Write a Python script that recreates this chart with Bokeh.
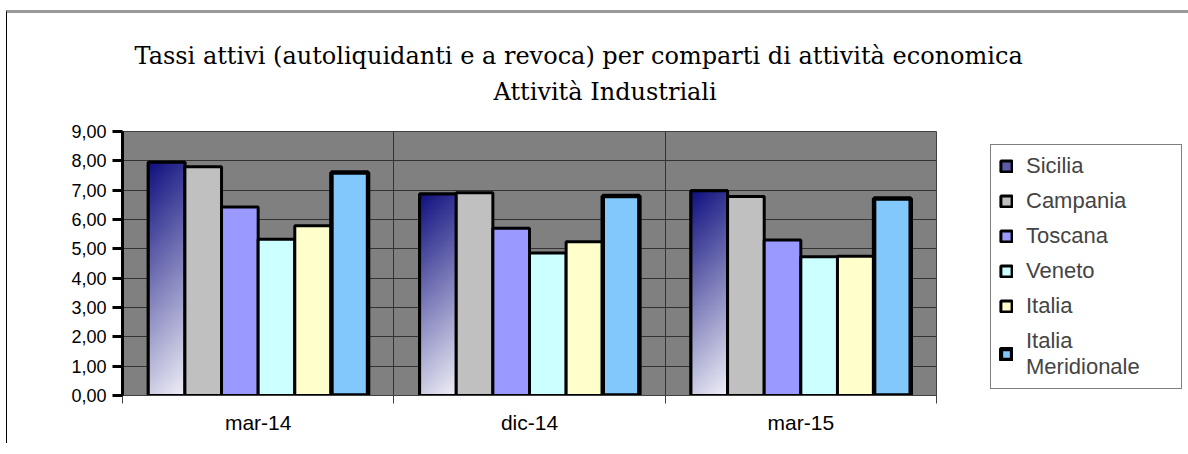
import numpy as np
from bokeh.plotting import figure
from bokeh.models import Range1d, FixedTicker, Legend, LegendItem, Title
from bokeh.embed import file_html
from bokeh.resources import INLINE

# ---- data ----
periods = ["mar-14", "dic-14", "mar-15"]
series = ["Sicilia", "Campania", "Toscana", "Veneto", "Italia", "Italia\nMeridionale"]
sicilia = [7.95, 6.87, 6.98]
campania = [7.80, 6.91, 6.78]
toscana = [6.43, 5.70, 5.30]
veneto = [5.33, 4.86, 4.73]
italia = [5.79, 5.24, 4.75]
italia_merid = [7.60, 6.80, 6.72]
y_ticks = [0, 1, 2, 3, 4, 5, 6, 7, 8, 9]
y_labels = ["0,00", "1,00", "2,00", "3,00", "4,00", "5,00", "6,00", "7,00", "8,00", "9,00"]

values = [sicilia, campania, toscana, veneto, italia, italia_merid]
colors = ["#5b5ba8", "#c0c0c0", "#9999ff", "#ccffff", "#ffffcc", "#82c8fc"]
line_widths = [3, 3, 3, 3, 3, 4.5]

title1 = "Tassi attivi (autoliquidanti e a revoca) per comparti di attività economica"
title2 = "Attività Industriali"

bar_w = 0.135
centers = [i + 0.5 for i in range(len(periods))]

p = figure(width=1172, height=430, frame_width=814, frame_height=264,
           min_border_left=115, min_border_right=243, min_border_top=118, min_border_bottom=48,
           x_range=Range1d(0, 3), y_range=Range1d(0, 9),
           output_backend="svg", toolbar_location=None, title=None,
           background_fill_color="#808080", border_fill_color="white",
           styles={"border-top": "3px solid #9a9a9a", "border-left": "1px solid black",
                   "margin-top": "10px", "margin-left": "6px"})
p.outline_line_color = "#404040"

# titles (later added = further from the plot); first a small spacer
p.add_layout(Title(text=" ", align="left", text_font_size="10px", standoff=12), "above")
p.add_layout(Title(text=title2, align="left", offset=371, text_font="DejaVu Serif",
                   text_font_size="24px", text_font_style="normal", text_color="black",
                   standoff=2), "above")
p.add_layout(Title(text=title1, align="left", offset=12, text_font="DejaVu Serif",
                   text_font_size="24px", text_font_style="normal", text_color="black",
                   standoff=10), "above")

# gradient for Sicilia
ny, nx = 120, 24
top = np.array([16, 16, 128], dtype=float)
bot = np.array([240, 240, 248], dtype=float)
img = np.zeros((ny, nx, 4), dtype=np.uint8)
for r in range(ny):
    for c in range(nx):
        t = 0.85 * ((ny - 1 - r) / (ny - 1)) + 0.15 * (c / (nx - 1))
        t = min(max(t, 0), 1)
        col = top + (bot - top) * t
        img[r, c, :3] = col.astype(np.uint8)
        img[r, c, 3] = 255
img32 = img.view(np.uint32).reshape(ny, nx)

items = []
for i, (name, vals) in enumerate(zip(series, values)):
    xs = [c + (i - 2.5) * bar_w for c in centers]
    r = p.vbar(x=xs, top=vals, bottom=0, width=bar_w, fill_color=colors[i],
               line_color="black", line_width=line_widths[i])
    if i == 0:
        p.image_rgba(image=[img32] * len(vals), x=[x - bar_w / 2 for x in xs],
                     y=[0] * len(vals), dw=[bar_w] * len(vals), dh=vals)
        p.vbar(x=xs, top=vals, bottom=0, width=bar_w, fill_color=None,
               line_color="black", line_width=line_widths[i])
    items.append(LegendItem(label=name, renderers=[r]))

legend = Legend(items=items, location="top_left", border_line_color="black",
                border_line_width=1.5, background_fill_color="white", background_fill_alpha=1,
                glyph_width=14, glyph_height=14, label_text_font="Liberation Sans",
                label_text_font_size="22px", label_standoff=13, spacing=9, padding=8,
                label_width=147, margin=0)
legend.location = (54, 6)
p.add_layout(legend, "right")

# axes
xa = p.xaxis[0]
xa.ticker = FixedTicker(ticks=centers, minor_ticks=[0, 1, 2, 3])
xa.major_label_overrides = {c: lab for c, lab in zip(centers, periods)}
xa.major_tick_line_color = None
xa.minor_tick_in = 0
xa.minor_tick_out = 8
xa.minor_tick_line_color = "#404040"
xa.axis_line_color = "#404040"
xa.major_label_text_font = "Liberation Sans"
xa.major_label_text_font_size = "21px"
xa.major_label_text_color = "black"
xa.major_label_standoff = 7

ya = p.yaxis[0]
ya.ticker = FixedTicker(ticks=y_ticks, minor_ticks=[])
ya.major_label_overrides = {t: lab for t, lab in zip(y_ticks, y_labels)}
ya.axis_line_width = 3
ya.axis_line_color = "black"
ya.major_tick_in = 0
ya.major_tick_out = 10
ya.major_tick_line_width = 3
ya.major_tick_line_color = "black"
ya.major_label_text_font = "Liberation Sans"
ya.major_label_text_font_size = "18px"
ya.major_label_text_color = "black"
ya.major_label_standoff = 6

p.xgrid.ticker = FixedTicker(ticks=[1, 2])
p.xgrid.grid_line_color = "#333333"
p.ygrid.ticker = FixedTicker(ticks=y_ticks)
p.ygrid.grid_line_color = "#333333"

open("out.html", "w").write(file_html(p, INLINE))
